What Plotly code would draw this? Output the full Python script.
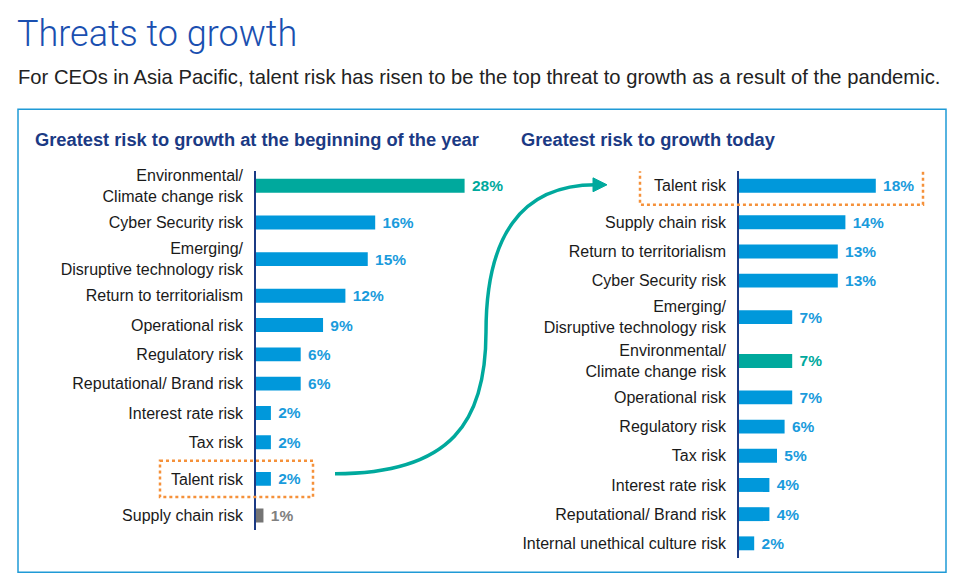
import plotly.graph_objects as go

W, H = 962, 585
OFF = 8  # the page body adds 8px around the plot

# values
begin_labels = [
    "Environmental/<br>Climate change risk",
    "Cyber Security risk",
    "Emerging/<br>Disruptive technology risk",
    "Return to territorialism",
    "Operational risk",
    "Regulatory risk",
    "Reputational/ Brand risk",
    "Interest rate risk",
    "Tax risk",
    "Talent risk",
    "Supply chain risk",
]
begin_values = [28, 16, 15, 12, 9, 6, 6, 2, 2, 2, 1]

today_labels = [
    "Talent risk",
    "Supply chain risk",
    "Return to territorialism",
    "Cyber Security risk",
    "Emerging/<br>Disruptive technology risk",
    "Environmental/<br>Climate change risk",
    "Operational risk",
    "Regulatory risk",
    "Tax risk",
    "Interest rate risk",
    "Reputational/ Brand risk",
    "Internal unethical culture risk",
]
today_values = [18, 14, 13, 13, 7, 7, 7, 6, 5, 4, 4, 2]

highlight = "Talent risk"
climate = "Environmental/<br>Climate change risk"
muted_begin = "Supply chain risk"

title = "Threats to growth"
subtitle = ("For CEOs in Asia Pacific, talent risk has risen to be the top threat "
            "to growth as a result of the pandemic.")
head_begin = "Greatest risk to growth at the beginning of the year"
head_today = "Greatest risk to growth today"

# styles
BLUE = "#0098db"
TEAL = "#00a99d"
GREY = "#747474"
NAVY = "#1b3a84"
ORANGE = "#f5913a"
FRAME = "#1f9ad6"
FONT = "Liberation Sans, Arial, sans-serif"


def fx(x):
    return (x - OFF) / W


def fy(y):
    return 1 - (y - OFF) / H


def px(x, y):
    return fx(x), fy(y)


def slots(labels):
    # taller slots for two-line labels and for the boxed item
    pos = [0.0]
    for a, b in zip(labels, labels[1:]):
        gap = 1 + 0.25 * (a.count("<br>") + b.count("<br>"))
        if highlight in (a, b):
            gap += 0.25
        pos.append(pos[-1] + gap)
    return pos


def y_domain(pos, first_px, last_px):
    ppu = (last_px - first_px) / pos[-1]
    top = first_px - 0.5 * ppu
    bot = last_px + 0.5 * ppu
    return [fy(bot), fy(top)], ppu


def colours(labels, muted=None):
    bar, txt = [], []
    for lab in labels:
        if lab == climate:
            bar.append(TEAL); txt.append(TEAL)
        elif lab == muted:
            bar.append(GREY); txt.append("#808080")
        else:
            bar.append(BLUE); txt.append("#1a9bdc")
    return bar, txt


pos_b = slots(begin_labels)
pos_t = slots(today_labels)
dom_b, ppu_b = y_domain(pos_b, 183, 515)
dom_t, ppu_t = y_domain(pos_t, 183, 543)

ppx_b, ppx_t = 7.45, 7.6  # pixels per percentage point
xr_b, xr_t = 32, 27
x0_b, x0_t = 256, 739

bar_b, txt_b = colours(begin_labels, muted_begin)
bar_t, txt_t = colours(today_labels)

fig = go.Figure()
fig.add_trace(go.Bar(
    x=begin_values, y=pos_b, orientation="h",
    marker=dict(color=bar_b, line=dict(width=0)),
    width=14 / ppu_b,
    texttemplate="\u00a0<b>%{x}%</b>", textposition="outside",
    textfont=dict(family=FONT, size=15.5, color=txt_b),
    constraintext="none", cliponaxis=False,
    hoverinfo="skip", xaxis="x", yaxis="y",
))
fig.add_trace(go.Bar(
    x=today_values, y=pos_t, orientation="h",
    marker=dict(color=bar_t, line=dict(width=0)),
    width=14 / ppu_t,
    texttemplate="\u00a0<b>%{x}%</b>", textposition="outside",
    textfont=dict(family=FONT, size=15.5, color=txt_t),
    constraintext="none", cliponaxis=False,
    hoverinfo="skip", xaxis="x2", yaxis="y2",
))

yax = dict(
    showgrid=False, zeroline=False, showline=True, linecolor=NAVY, linewidth=1.5,
    ticks="", ticklabelstandoff=8, tickfont=dict(family=FONT, size=16, color="#1a1a1a"),
    fixedrange=True,
)
xax = dict(visible=False, fixedrange=True)

fig.update_layout(
    width=W, height=H,
    margin=dict(l=0, r=0, t=0, b=0),
    paper_bgcolor="white", plot_bgcolor="rgba(0,0,0,0)",
    showlegend=False,
    xaxis=dict(xax, domain=[fx(x0_b), fx(x0_b + xr_b * ppx_b)], range=[0, xr_b]),
    xaxis2=dict(xax, domain=[fx(x0_t), fx(x0_t + xr_t * ppx_t)], range=[0, xr_t]),
    yaxis=dict(yax, domain=dom_b, range=[pos_b[-1] + 0.5, -0.5],
               tickvals=pos_b, ticktext=begin_labels, anchor="x"),
    yaxis2=dict(yax, domain=dom_t, range=[pos_t[-1] + 0.5, -0.5],
                tickvals=pos_t, ticktext=today_labels, anchor="x2"),
)

# frame around both panels
fig.add_shape(type="rect", xref="paper", yref="paper",
              x0=fx(18), y0=fy(572), x1=fx(946), y1=fy(106),
              line=dict(color=FRAME, width=1.5), layer="below")

# dotted boxes around the talent risk rows
hb = pos_b[begin_labels.index(highlight)]
ht = pos_t[today_labels.index(highlight)]
fig.add_shape(type="rect", xref="paper", yref="y", x0=fx(160), x1=fx(313),
              y0=hb - 0.62, y1=hb + 0.62, line=dict(color=ORANGE, width=2.5, dash="dot"))
fig.add_shape(type="rect", xref="paper", yref="y2", x0=fx(640), x1=fx(923),
              y0=ht - 0.65, y1=ht + 0.65, line=dict(color=ORANGE, width=2.5, dash="dot"))

# curved arrow from the old talent row to the new one
pts = [(335, 473), (452, 473), (486, 420), (486, 330), (486, 235), (520, 182), (596, 182)]
p = [px(x, y) for x, y in pts]
path = "M {},{} C {},{} {},{} {},{} C {},{} {},{} {},{}".format(*[v for q in p for v in q])
fig.add_shape(type="path", xref="paper", yref="paper", path=path,
              line=dict(color=TEAL, width=3.5))
tri = [px(607, 182), px(593, 175), px(593, 189)]
fig.add_shape(type="path", xref="paper", yref="paper",
              path="M {},{} L {},{} L {},{} Z".format(*[v for q in tri for v in q]),
              fillcolor=TEAL, line=dict(color=TEAL, width=1))


# texts
def note(text, x, y, size, color, family=FONT, weight="normal"):
    fig.add_annotation(text=text, x=fx(x), y=fy(y), xref="paper", yref="paper",
                       xanchor="left", yanchor="middle", showarrow=False,
                       font=dict(family=family, size=size, color=color, weight=weight))


note(title, 15, 30, 36, "#1a4fb0", family="Roboto, sans-serif", weight=300)
note(subtitle, 16, 73, 20.2, "#222222")
note(head_begin, 33, 136, 18.3, NAVY, weight="bold")
note(head_today, 519, 136, 18.3, NAVY, weight="bold")

fig.write_html("out.html")
